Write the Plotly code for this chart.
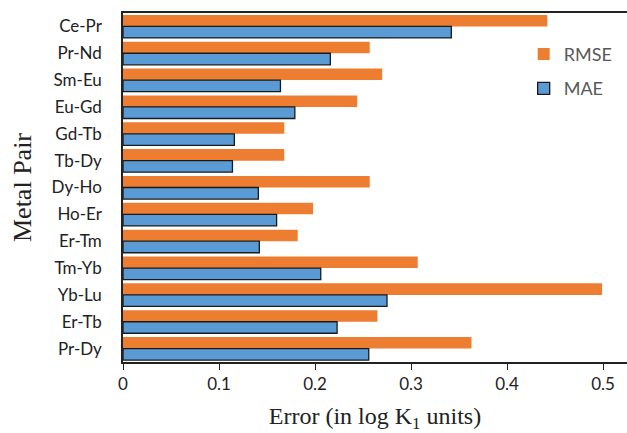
import plotly.graph_objects as go

pairs = ["Ce-Pr", "Pr-Nd", "Sm-Eu", "Eu-Gd", "Gd-Tb", "Tb-Dy", "Dy-Ho",
         "Ho-Er", "Er-Tm", "Tm-Yb", "Yb-Lu", "Er-Tb", "Pr-Dy"]
rmse = [0.442, 0.257, 0.270, 0.244, 0.168, 0.168, 0.257,
        0.198, 0.182, 0.307, 0.499, 0.265, 0.363]
mae = [0.342, 0.216, 0.164, 0.179, 0.116, 0.114, 0.141,
       0.160, 0.142, 0.206, 0.275, 0.223, 0.256]

fig = go.Figure()
fig.add_trace(go.Bar(y=pairs, x=rmse, orientation="h", name="RMSE", legendgroup="a",
                     marker=dict(color="#ED7D31", line=dict(width=0))))
fig.add_trace(go.Bar(y=pairs, x=mae, orientation="h", name="MAE", legendgroup="b",
                     marker=dict(color="#5B9BD5", line=dict(color="#1a1a1a", width=1.3))))

fig.update_layout(
    width=627, height=433,
    margin=dict(l=123, r=0, t=13, b=71),
    plot_bgcolor="white", paper_bgcolor="white",
    barmode="group", bargap=0.14, bargroupgap=0,
    showlegend=True,
    legend=dict(x=0.795, y=0.935, xanchor="left", yanchor="top",
                font=dict(family="Lato, Open Sans, sans-serif", size=18, color="#595959"),
                bgcolor="rgba(0,0,0,0)", itemwidth=30, tracegroupgap=8),
    xaxis=dict(range=[0, 0.525], tickvals=[0, 0.1, 0.2, 0.3, 0.4, 0.5],
               ticktext=["0", "0.1", "0.2", "0.3", "0.4", "0.5"],
               showgrid=False, zeroline=False, showline=True, linecolor="#222",
               linewidth=1.5, mirror=True, ticks="outside", ticklen=6,
               tickcolor="#222",
               tickfont=dict(family="Lato, Open Sans, sans-serif", size=17, color="#222"),
               title=dict(text="Error (in log K<sub>1</sub> units)",
                          font=dict(family="Liberation Serif, serif", size=24, color="#222"),
                          standoff=14)),
    yaxis=dict(autorange="reversed", showgrid=False, showline=True, linecolor="#222",
               linewidth=1.5, ticks="", ticklabelstandoff=16,
               tickfont=dict(family="Lato, Open Sans, sans-serif", size=17, color="#222"),
               title=dict(text="Metal Pair",
                          font=dict(family="Liberation Serif, serif", size=26, color="#222"),
                          standoff=12)),
)

fig.write_html("out.html")
